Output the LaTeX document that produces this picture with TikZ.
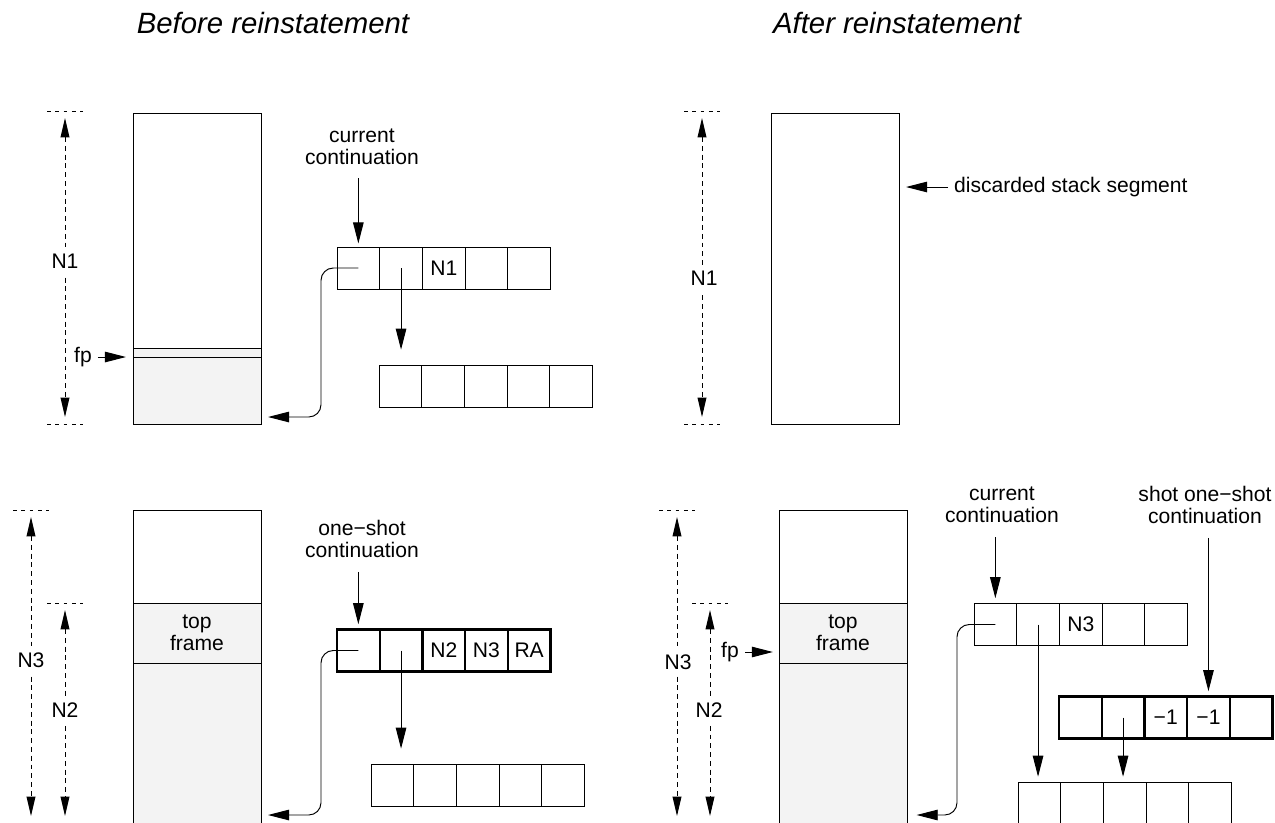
\documentclass[tikz,border=0pt]{standalone}
\usepackage{fontspec}
\setmainfont{Liberation Sans}
\usetikzlibrary{arrows.meta,positioning,calc}
\definecolor{framegray}{HTML}{F3F3F3}

% one record of five cells: name, left x, centre y, extra style, labels
\newcommand{\controw}[5]{%
  \foreach \i/\t in {#5}{%
    \node[cell,#4] (#1-\i) at ({#2+(\i-0.5)*42.7},#3) {\t};
  }}

\begin{document}
\begin{tikzpicture}[x=0.02cm,y=-0.02cm,
  font=\fontsize{12}{12.5}\selectfont,
  cell/.style={draw,minimum width=0.854cm,minimum height=0.84cm,inner sep=0pt,outer sep=0pt,line width=0.55pt},
  boldrow/.style={line width=1.35pt},
  stack/.style={draw,minimum width=2.56cm,inner sep=0pt,outer sep=0pt,line width=0.55pt},
  topframe/.style={draw,fill=framegray,minimum width=2.56cm,minimum height=1.2cm,inner sep=0pt,outer sep=0pt,align=center,line width=0.55pt},
  ptr/.style={-{Triangle[length=12pt,width=6pt]},line width=0.55pt},
  dimarrow/.style={{Triangle[length=11pt,width=5pt]}-{Triangle[length=11pt,width=5pt]},line width=0.55pt,dash pattern=on 2.8pt off 2.2pt,shorten <=4pt,shorten >=4pt},
  dimtick/.style={line width=0.45pt,dash pattern=on 2.2pt off 2.5pt},
  dimlbl/.style={fill=white,inner sep=3pt},
  ttl/.style={font=\fontsize{16.7}{20}\selectfont\itshape,anchor=base},
  lbl/.style={align=center}]
\useasboundingbox (0,0) rectangle (1275,822);
\clip (0,0) rectangle (1275,822);

\node[ttl] (ttlB) at (273,33) {Before reinstatement};
\node[ttl] (ttlA) at (897,33) {After reinstatement};

% before, upper
\fill[framegray] (133,348) rectangle (261,425);
\draw[line width=0.55pt] (133,348) -- (261,348) (133,357) -- (261,357);
\node[stack,minimum height=6.24cm] (stkA) at (197,269) {};
\coordinate (nA1) at (65,111); \coordinate (nA2) at (65,424);
\foreach \c in {nA1,nA2} \draw[dimtick] ([xshift=-0.36cm]\c) -- ([xshift=0.36cm]\c);
\draw[dimarrow] (nA1) -- (nA2);
\node[dimlbl] (nA) at (65,261) {N1};
\node (fpA) at (83,357) {fp};
\draw[ptr,shorten >=4pt] (fpA.east) -- (fpA.east -| stkA.west);
\controw{ra}{337}{268}{}{1/,2/,3/N1,4/,5/}
\controw{rb}{379}{386.5}{}{1/,2/,3/,4/,5/}
\node[lbl] (lblA) at (362,147) {current\\continuation};
\draw[ptr,shorten <=4pt,shorten >=2pt] (lblA.south -| ra-1.center) -- (ra-1.north);
\draw[ptr,shorten >=9pt] (ra-2.center) -- (ra-2.center |- rb-1.north);
\coordinate (bendA) at (321,417);
\draw[ptr,rounded corners=7pt,shorten >=4pt] (ra-1.center) -| (bendA) -- (bendA -| stkA.east);

% after, upper
\node[stack,minimum height=6.24cm] (stkB) at (835,269) {};
\coordinate (nB1) at (702,111); \coordinate (nB2) at (702,424);
\foreach \c in {nB1,nB2} \draw[dimtick] ([xshift=-0.36cm]\c) -- ([xshift=0.36cm]\c);
\draw[dimarrow] (nB1) -- (nB2);
\node[dimlbl] (nB) at (704,278) {N1};
\node[anchor=west] (dsc) at (948,187) {discarded stack segment};
\draw[ptr,shorten >=4pt] (dsc.west) -- (dsc.west -| stkB.east);

% before, lower
\fill[framegray] (133,663) rectangle (261,900);
\node[stack,minimum height=7.8cm] (stkC) at (197,705) {};
\node[topframe] (frC) at (197,633) {top\\frame};
\coordinate (nC1) at (31,510); \coordinate (nC2) at (31,823);
\coordinate (mC1) at (65,603); \coordinate (mC2) at (65,823);
\foreach \c in {nC1,mC1} \draw[dimtick] ([xshift=-0.36cm]\c) -- ([xshift=0.36cm]\c);
\draw[dimarrow] (nC1) -- (nC2);
\draw[dimarrow] (mC1) -- (mC2);
\node[dimlbl] (nC) at (31,660) {N3};
\node[dimlbl] (mC) at (65,710) {N2};
\controw{rc}{337}{650.5}{boldrow}{1/,2/,3/N2,4/N3,5/RA}
\controw{rd}{371}{785.5}{}{1/,2/,3/,4/,5/}
\node[lbl] (lblC) at (362,539) {one−shot\\continuation};
\draw[ptr,shorten <=4.5pt,shorten >=3pt] (lblC.south -| rc-1.center) -- (rc-1.north);
\draw[ptr,shorten >=9pt] (rc-2.center) -- (rc-2.center |- rd-1.north);
\coordinate (bendC) at (321,815);
\draw[ptr,rounded corners=7pt,shorten >=4pt] (rc-1.center) -| (bendC) -- (bendC -| stkC.east);

% after, lower
\fill[framegray] (779,663) rectangle (907,900);
\node[stack,minimum height=7.8cm] (stkD) at (843,705) {};
\node[topframe] (frD) at (843,633) {top\\frame};
\coordinate (nD1) at (677,510); \coordinate (nD2) at (677,823);
\coordinate (mD1) at (710,603); \coordinate (mD2) at (710,823);
\foreach \c in {nD1,mD1} \draw[dimtick] ([xshift=-0.36cm]\c) -- ([xshift=0.36cm]\c);
\draw[dimarrow] (nD1) -- (nD2);
\draw[dimarrow] (mD1) -- (mD2);
\node[dimlbl] (nD) at (678,662) {N3};
\node[dimlbl] (mD) at (709,710) {N2};
\node (fpD) at (730,652) {fp};
\draw[ptr,shorten >=3.5pt] (fpD.east) -- (fpD.east -| stkD.west);
\controw{re}{974}{624.5}{}{1/,2/,3/N3,4/,5/}
\controw{rf}{1059}{717.5}{boldrow}{1/,2/,3/−1,4/−1,5/}
\controw{rg}{1018}{803}{}{1/,2/,3/,4/,5/}
\node[lbl] (lblE) at (1002,505) {current\\continuation};
\node[lbl] (lblF) at (1205,505) {shot one−shot\\continuation};
\draw[ptr,shorten <=4.5pt,shorten >=3pt] (lblE.south -| re-1.center) -- (re-1.north);
\draw[ptr,shorten <=4.5pt,shorten >=3pt] (lblF.south -| rf-4.center) -- (rf-4.north);
\draw[ptr,shorten >=3pt] (re-2.center) -- (re-2.center |- rg-1.north);
\draw[ptr,shorten >=3pt] (rf-2.center) -- (rf-2.center |- rg-3.north);
\coordinate (bendE) at (957,815);
\draw[ptr,rounded corners=7pt,shorten >=5.5pt] (re-1.center) -| (bendE) -- (bendE -| stkD.east);
\end{tikzpicture}
\end{document}
